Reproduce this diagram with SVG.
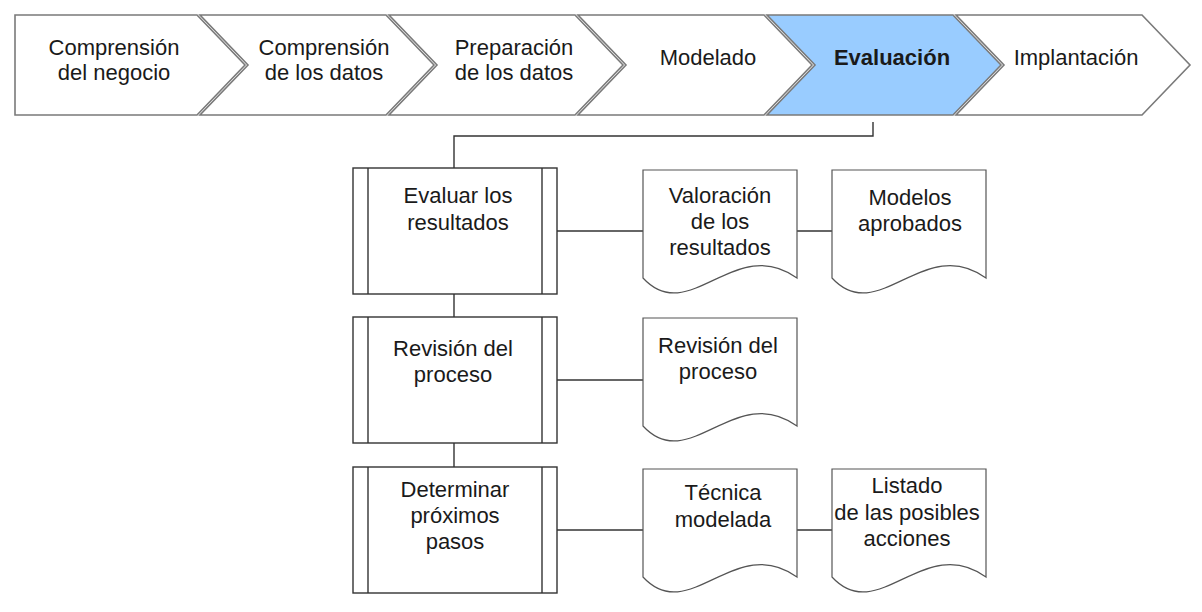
<svg xmlns="http://www.w3.org/2000/svg" xmlns:xlink="http://www.w3.org/1999/xlink" width="1202" height="612" viewBox="0 0 1202 612">
<style>
.chev{fill:#ffffff;stroke:#7a7a7a;stroke-width:1.6;stroke-linejoin:miter}
.chev.active{fill:#99ccff}
.doc{fill:#ffffff;stroke:#555555;stroke-width:1.2}
.conn{fill:none;stroke:#333333;stroke-width:1.4}
text{font-family:"Liberation Sans",Arial,sans-serif;font-size:22px;fill:#1a1a1a;text-anchor:middle}
text.b{font-weight:bold}
</style>
<defs>
<path id="docshape" d="M0,0 H154 V108 C92.4,63 46.2,158 0,108 Z" fill="#ffffff" stroke="#555555" stroke-width="1.2"/>
<g id="procshape" fill="#ffffff" stroke="#333333" stroke-width="1.4">
<rect x="0" y="0" width="204" height="126"/>
<line x1="15" y1="0" x2="15" y2="126"/>
<line x1="189" y1="0" x2="189" y2="126"/>
</g>
</defs>
<rect width="1202" height="612" fill="#ffffff"/>

<g id="connectors">
<path class="conn" d="M873,122 V136 H454 V168"/>
<path class="conn" d="M454,294 V317"/>
<path class="conn" d="M454,443 V467"/>
<path class="conn" d="M557,231 H643"/>
<path class="conn" d="M797,231 H832"/>
<path class="conn" d="M557,380 H643"/>
<path class="conn" d="M557,530 H643"/>
<path class="conn" d="M797,530 H832"/>
</g>

<g id="phase1">
<path class="chev" d="M15,15 H197 L245,65 L197,115 H15 Z"/>
<text x="114" y="55">Comprensión</text>
<text x="114" y="80">del negocio</text>
</g>
<g id="phase2">
<path class="chev" d="M200,15 H386 L434,65 L386,115 H200 L248,65 Z"/>
<text x="324" y="55">Comprensión</text>
<text x="324" y="80">de los datos</text>
</g>
<g id="phase3">
<path class="chev" d="M389,15 H575 L623,65 L575,115 H389 L437,65 Z"/>
<text x="514" y="55">Preparación</text>
<text x="514" y="80">de los datos</text>
</g>
<g id="phase4">
<path class="chev" d="M578,15 H764 L812,65 L764,115 H578 L626,65 Z"/>
<text x="708" y="65">Modelado</text>
</g>
<g id="phase5">
<path class="chev active" d="M767,15 H953 L1001,65 L953,115 H767 L815,65 Z"/>
<text class="b" x="892" y="65">Evaluación</text>
</g>
<g id="phase6">
<path class="chev" d="M956,15 H1142 L1190,65 L1142,115 H956 L1004,65 Z"/>
<text x="1076" y="65">Implantación</text>
</g>

<g id="task1">
<use xlink:href="#procshape" x="353" y="168"/>
<text x="458" y="203">Evaluar los</text>
<text x="458" y="230">resultados</text>
</g>
<g id="task2">
<use xlink:href="#procshape" x="353" y="317"/>
<text x="453" y="356">Revisión del</text>
<text x="453" y="382">proceso</text>
</g>
<g id="task3">
<use xlink:href="#procshape" x="353" y="467"/>
<text x="455" y="497">Determinar</text>
<text x="455" y="523">próximos</text>
<text x="455" y="549">pasos</text>
</g>

<g id="out1a">
<use xlink:href="#docshape" x="643" y="170"/>
<text x="720" y="203">Valoración</text>
<text x="720" y="229">de los</text>
<text x="720" y="255">resultados</text>
</g>
<g id="out1b">
<use xlink:href="#docshape" x="832" y="170"/>
<text x="910" y="205">Modelos</text>
<text x="910" y="231">aprobados</text>
</g>
<g id="out2">
<use xlink:href="#docshape" x="643" y="318"/>
<text x="718" y="353">Revisión del</text>
<text x="718" y="379">proceso</text>
</g>
<g id="out3a">
<use xlink:href="#docshape" x="643" y="469"/>
<text x="723" y="500">Técnica</text>
<text x="723" y="527">modelada</text>
</g>
<g id="out3b">
<use xlink:href="#docshape" x="832" y="469"/>
<text x="907" y="493">Listado</text>
<text x="907" y="520">de las posibles</text>
<text x="907" y="546">acciones</text>
</g>
</svg>
